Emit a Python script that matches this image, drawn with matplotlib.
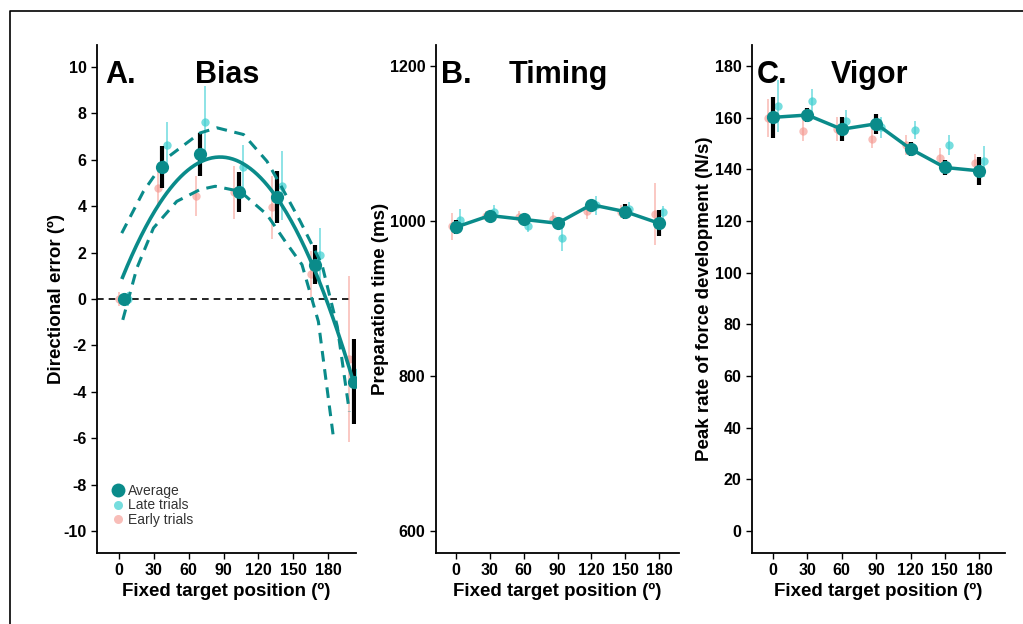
import matplotlib
matplotlib.use("Agg")
import matplotlib.pyplot as plt
from matplotlib.lines import Line2D
import numpy as np

plt.rcParams['font.family'] = ['Liberation Sans', 'DejaVu Sans']
plt.rcParams['axes.unicode_minus'] = False

# ---- data ----
# A. Bias (directional error, deg)
bias_x = [4, 37, 70, 103, 136, 169, 202]
bias_avg = [0.0, 5.69, 6.23, 4.61, 4.40, 1.48, -3.56]
bias_avg_se = [0.2, 0.90, 0.92, 0.86, 1.13, 0.85, 1.85]
bias_late = [0.0, 6.66, 7.64, 5.68, 4.89, 1.88, -3.16]
bias_late_se = [0.3, 0.98, 1.54, 0.98, 1.48, 1.18, 1.55]
bias_early = [0.0, 4.79, 4.44, 4.60, 3.95, 1.07, -2.60]
bias_early_se = [0.3, 0.87, 0.88, 1.13, 1.35, 1.0, 3.57]
# quadratic fit (vertex form: peak x, peak y, curvature) and its dashed bounds
fit_peak_x, fit_peak_y, fit_curv = 87.0, 6.12, 0.000735
fit_x_range = [3, 202]
upper_x = [2.3, 21, 41.1, 69.8, 84.3, 107.2, 127.3, 138.8, 156, 174.7, 187.9, 198.3]
upper_y = [2.84, 4.64, 6.08, 7.16, 7.38, 7.09, 5.94, 4.93, 3.35, 1.48, -1.19, -4.86]
lower_x = [3.2, 15.3, 29.6, 49.7, 69.8, 82.8, 104.3, 127.3, 143.1, 157.5, 171.6, 184.5]
lower_y = [-0.9, 1.33, 3.06, 4.21, 4.72, 4.86, 4.64, 3.64, 2.48, 1.48, -0.97, -5.94]

# B. Timing (preparation time, ms)
pos = [0, 30, 60, 90, 120, 150, 180]
time_avg = [992, 1007, 1002, 997, 1021, 1012, 997]
time_avg_se = [9, 5, 4, 4, 6, 10, 17]
time_late = [1001, 1012, 994, 978, 1020, 1016, 1011]
time_late_se = [14, 8, 8, 17, 12, 8, 8]
time_early = [993, 1007, 1005, 1003, 1013, 1012, 1009]
time_early_se = [17, 6, 8, 8, 10, 8, 40]

# C. Vigor (peak rate of force development, N/s)
vig_avg = [160.1, 161.0, 155.5, 157.6, 147.9, 140.7, 139.4]
vig_avg_se = [8.0, 2.7, 4.6, 3.9, 2.6, 2.9, 5.3]
vig_late = [164.5, 166.5, 158.5, 156.3, 155.1, 149.4, 143.2]
vig_late_se = [10, 4.5, 4.5, 4, 3.5, 4, 6]
vig_early = [159.8, 155.0, 155.6, 151.9, 149.4, 144.3, 142.6]
vig_early_se = [7.3, 4, 4.5, 3.5, 4, 4, 3.5]

xticks = [0, 30, 60, 90, 120, 150, 180]

# ---- style ----
c_avg = '#0a8b8a'
c_late = '#3ccfd0'
c_early = '#f4928a'
tick_fs = 11.5
lab_fs = 13.5

fig = plt.figure(figsize=(10.23, 6.24), dpi=100)
W, H = 1023, 624


def add_ax(x0, x1, y0, y1):
    return fig.add_axes([x0 / W, 1 - y1 / H, (x1 - x0) / W, (y1 - y0) / H])


def style(ax):
    for s in ['top', 'right']:
        ax.spines[s].set_visible(False)
    for s in ['left', 'bottom']:
        ax.spines[s].set_linewidth(1.3)
    ax.tick_params(labelsize=tick_fs, width=1.0, length=4)
    for lb in ax.get_xticklabels() + ax.get_yticklabels():
        lb.set_fontweight('bold')
    ax.set_xticks(xticks)
    ax.set_xticklabels([str(t) for t in xticks], fontweight='bold')
    ax.set_xlabel('Fixed target position (º)', fontsize=lab_fs, fontweight='bold', labelpad=3)


def draw_points(ax, x, avg, avg_se, late, late_se, early, early_se, dx, line=True):
    x = np.array(x, dtype=float)
    ax.errorbar(x - dx, early, yerr=early_se, fmt='o', color=c_early, ms=6, alpha=0.6,
                elinewidth=1.1, ecolor=(0.96, 0.55, 0.5, 0.3), mec='none', zorder=2)
    ax.errorbar(x + dx, late, yerr=late_se, fmt='o', color=c_late, ms=6, alpha=0.7,
                elinewidth=1.1, ecolor=(0.2, 0.8, 0.82, 0.3), mec='none', zorder=2)
    ax.errorbar(x, avg, yerr=avg_se, fmt='none', ecolor='black', elinewidth=3, zorder=3)
    if line:
        ax.plot(x, avg, color=c_avg, lw=2.5, zorder=4)
    ax.plot(x, avg, 'o', color=c_avg, ms=9.5, mec='none', zorder=5)


# ---- panel A ----
axA = add_ax(97, 356, 45, 553)
axA.set_xlim(-19, 204)
axA.set_ylim(-10.95, 10.95)
axA.set_yticks(np.arange(-10, 11, 2))
axA.axhline(0, color='black', lw=1.2, ls=(0, (4, 3)), zorder=1, xmax=0.99)
xs = np.linspace(fit_x_range[0], fit_x_range[1], 200)
axA.plot(xs, fit_peak_y - fit_curv * (xs - fit_peak_x) ** 2, color=c_avg, lw=2.6, zorder=4)
axA.plot(upper_x, upper_y, color=c_avg, lw=2.2, ls=(0, (3.5, 2.5)), zorder=4)
axA.plot(lower_x, lower_y, color=c_avg, lw=2.2, ls=(0, (3.5, 2.5)), zorder=4)
draw_points(axA, bias_x, bias_avg, bias_avg_se, bias_late, bias_late_se,
            bias_early, bias_early_se, 3.9, line=False)
style(axA)
axA.set_ylabel('Directional error (º)', fontsize=lab_fs, fontweight='bold', labelpad=-1)
axA.text(0.03, 0.97, 'A.', transform=axA.transAxes, fontsize=22, fontweight='bold', va='top')
axA.text(0.38, 0.97, 'Bias', transform=axA.transAxes, fontsize=22, fontweight='bold', va='top')
handles = [
    Line2D([], [], marker='o', ls='none', color=c_avg, ms=10, mec='none'),
    Line2D([], [], marker='o', ls='none', color=c_late, ms=6.5, alpha=0.7, mec='none'),
    Line2D([], [], marker='o', ls='none', color=c_early, ms=6.5, alpha=0.6, mec='none'),
]
axA.legend(handles, ['Average', 'Late trials', 'Early trials'], loc='lower left',
           bbox_to_anchor=(0.03, 0.04), frameon=False, fontsize=10, handletextpad=0.15,
           labelspacing=0.05, borderaxespad=0, handlelength=1.1, labelcolor='#333333')

# ---- panel B ----
axB = add_ax(436, 679, 45, 553)
axB.set_xlim(-17.7, 197.7)
axB.set_ylim(571.6, 1227)
axB.set_yticks([600, 800, 1000, 1200])
draw_points(axB, pos, time_avg, time_avg_se, time_late, time_late_se,
            time_early, time_early_se, 3.8)
style(axB)
axB.set_ylabel('Preparation time (ms)', fontsize=lab_fs, fontweight='bold', labelpad=1)
axB.text(0.02, 0.97, 'B.', transform=axB.transAxes, fontsize=22, fontweight='bold', va='top')
axB.text(0.30, 0.97, 'Timing', transform=axB.transAxes, fontsize=22, fontweight='bold', va='top')

# ---- panel C ----
axC = add_ax(752, 1005, 45, 553)
axC.set_xlim(-18.4, 202.5)
axC.set_ylim(-8.5, 188.1)
axC.set_yticks(np.arange(0, 181, 20))
draw_points(axC, pos, vig_avg, vig_avg_se, vig_late, vig_late_se,
            vig_early, vig_early_se, 4.0)
style(axC)
axC.set_ylabel('Peak rate of force development (N/s)', fontsize=lab_fs, fontweight='bold', labelpad=1)
axC.text(0.02, 0.97, 'C.', transform=axC.transAxes, fontsize=22, fontweight='bold', va='top')
axC.text(0.31, 0.97, 'Vigor', transform=axC.transAxes, fontsize=22, fontweight='bold', va='top')

# outer frame (top and left edges)
fig.add_artist(Line2D([10 / W, 10 / W, 1], [0, 1 - 11 / H, 1 - 11 / H], color='black', lw=1.2))

fig.savefig('out.png', dpi=100)
